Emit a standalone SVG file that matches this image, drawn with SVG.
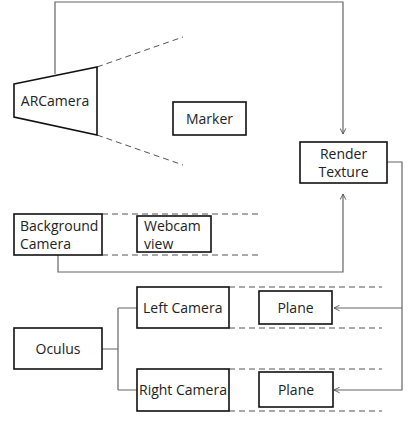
<svg xmlns="http://www.w3.org/2000/svg" width="418" height="426" viewBox="0 0 418 426">
<defs>
<marker id="arr" viewBox="0 0 10 10" refX="9" refY="5" markerWidth="7" markerHeight="7" orient="auto-start-reverse" markerUnits="userSpaceOnUse">
<path d="M1,1 L9,5 L1,9" fill="none" stroke="#555" stroke-width="1.3"/>
</marker>
</defs>
<style>
.box{fill:#fff;stroke:#111;stroke-width:1.6}
.dash{fill:none;stroke:#555;stroke-width:1;stroke-dasharray:6,4}
.conn{fill:none;stroke:#666;stroke-width:1.2}
text{font-family:"Open Sans","Noto Sans","Liberation Sans",sans-serif;font-size:14px;fill:#222}
</style>
<rect width="418" height="426" fill="#fff"/>
<g id="connectors">
<path class="conn" d="M55,74 V2 H343 V134" marker-end="url(#arr)"/>
<path class="conn" d="M58,255 V272 H343 V194" marker-end="url(#arr)"/>
<path class="conn" d="M387,162 H402 V390 H334" marker-end="url(#arr)"/>
<path class="conn" d="M402,308 H334" marker-end="url(#arr)"/>
<path class="conn" d="M102,349 H118 M118,308 V390 M118,308 H137 M118,390 H137"/>
<path class="dash" d="M97,67 L183,37 M97,135 L183,165"/>
<path class="dash" d="M102,214 H260 M102,255 H260"/>
<path class="dash" d="M229,287 H382 M229,328 H382 M229,369 H382 M229,411 H382"/>
</g>
<g id="arcamera">
<polygon class="box" points="14,84 97,67 97,135 14,117"/>
<text x="55" y="106" text-anchor="middle">ARCamera</text>
</g>
<g id="marker">
<rect class="box" x="173" y="102" width="73" height="33"/>
<text x="209.5" y="124" text-anchor="middle">Marker</text>
</g>
<g id="render-texture">
<rect class="box" x="300" y="142" width="87" height="41"/>
<text x="343.5" y="159" text-anchor="middle">Render</text>
<text x="343.5" y="177" text-anchor="middle">Texture</text>
</g>
<g id="background-camera">
<rect class="box" x="14" y="214" width="88" height="41"/>
<text x="20" y="231">Background</text>
<text x="20" y="249">Camera</text>
</g>
<g id="webcam-view">
<rect class="box" x="137" y="216" width="74" height="36"/>
<text x="144" y="231">Webcam</text>
<text x="144" y="249">view</text>
</g>
<g id="oculus">
<rect class="box" x="14" y="328" width="88" height="41"/>
<text x="58" y="354" text-anchor="middle">Oculus</text>
</g>
<g id="left-camera">
<rect class="box" x="137" y="287" width="92" height="41"/>
<text x="143" y="313">Left Camera</text>
</g>
<g id="right-camera">
<rect class="box" x="137" y="369" width="92" height="42"/>
<text x="139" y="395">Right Camera</text>
</g>
<g id="plane-left">
<rect class="box" x="259" y="291" width="73" height="33"/>
<text x="295.5" y="313" text-anchor="middle">Plane</text>
</g>
<g id="plane-right">
<rect class="box" x="259" y="372" width="74" height="35"/>
<text x="296" y="395" text-anchor="middle">Plane</text>
</g>
</svg>
